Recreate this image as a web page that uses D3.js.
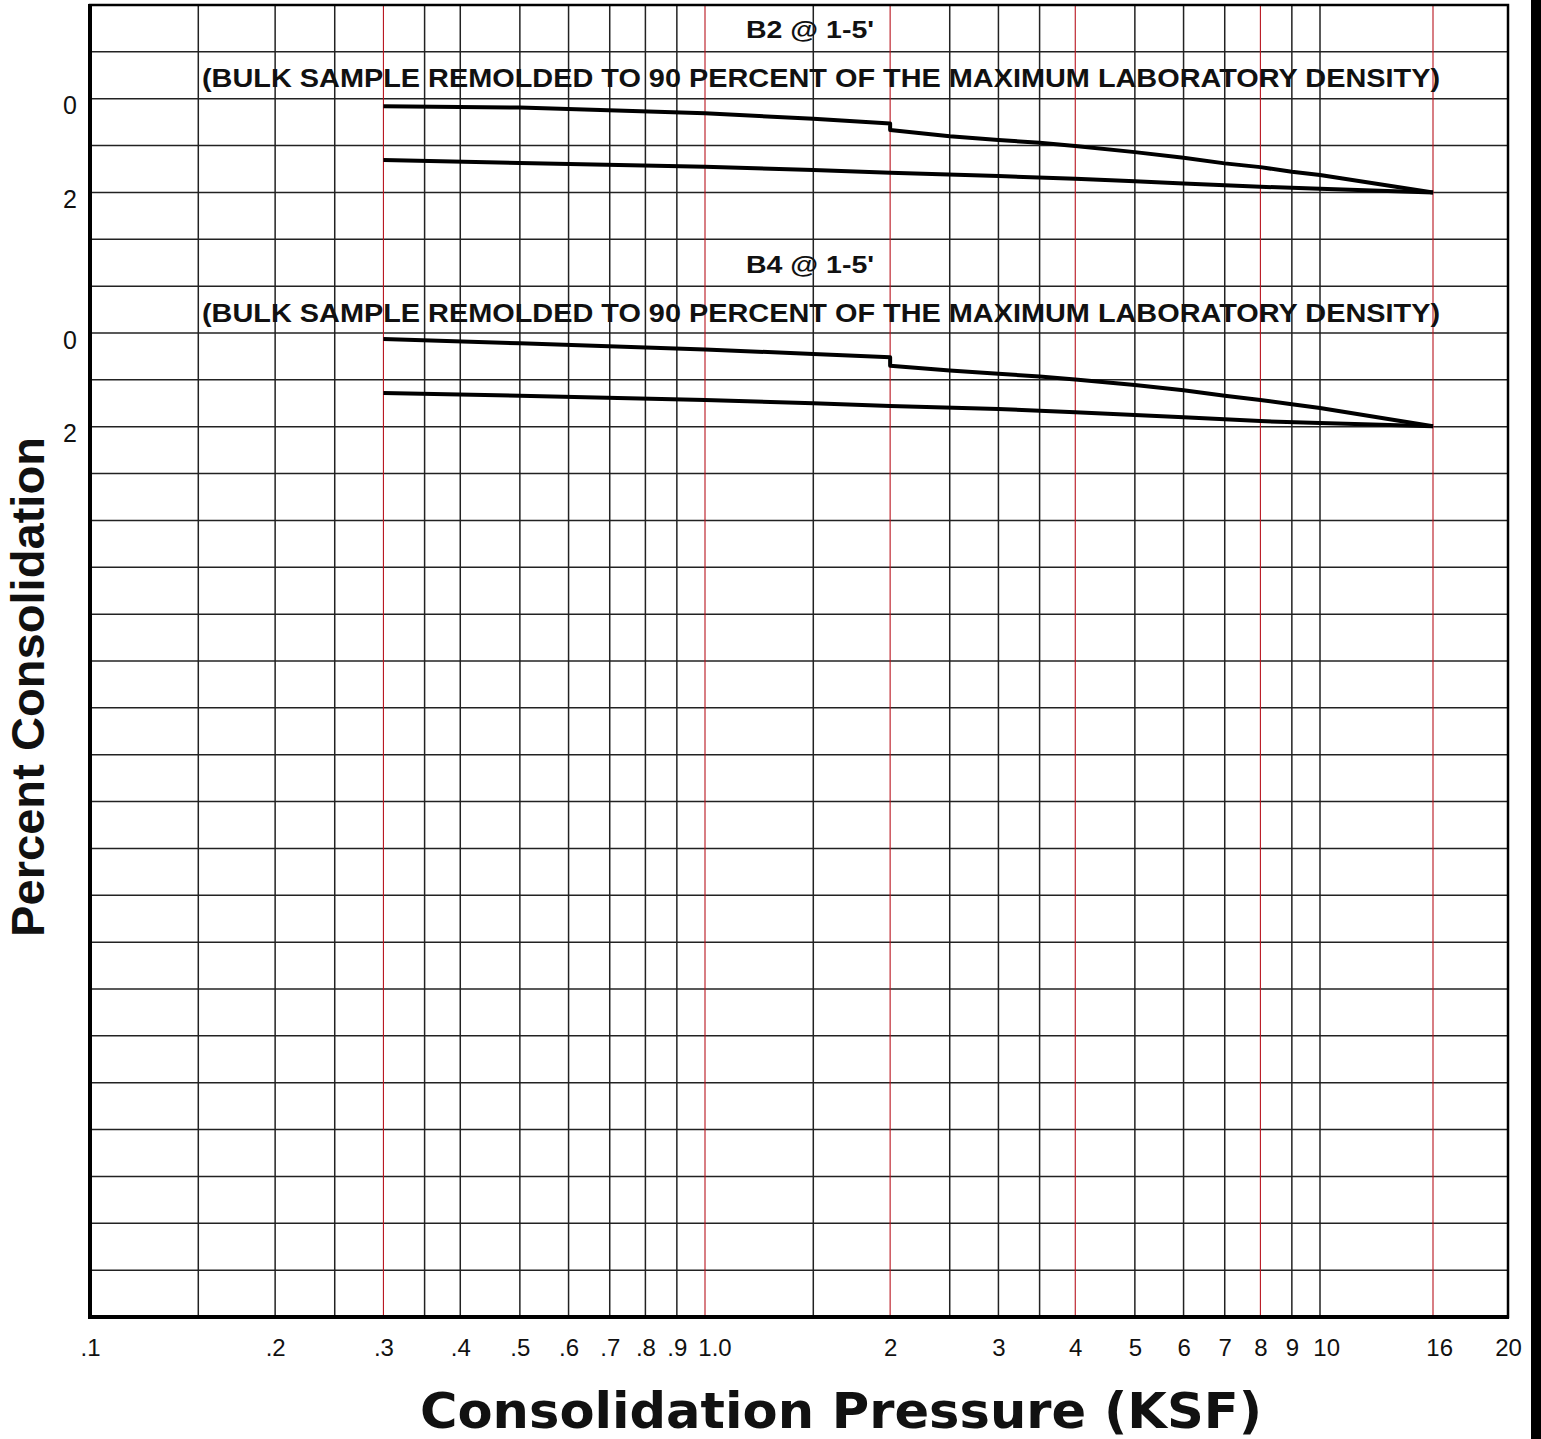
<!DOCTYPE html>
<html>
<head>
<meta charset="utf-8">
<script src="https://cdn.jsdelivr.net/npm/d3@7"></script>
<style>
  html, body { margin: 0; padding: 0; background: #fff; }
  svg { display: block; }
</style>
</head>
<body>
<div id="graph"></div>
<script>
// vertical grid lines (KSF); the red ones mark the load steps
const gridPressures = [0.15, 0.2, 0.25, 0.3, 0.35, 0.4, 0.5, 0.6, 0.7, 0.8, 0.9, 1.0,
                       1.5, 2, 2.5, 3, 3.5, 4, 5, 6, 7, 8, 9, 10, 16];
const redPressures = [0.3, 1.0, 2, 4, 8, 16];

const xTickValues = [0.1, 0.2, 0.3, 0.4, 0.5, 0.6, 0.7, 0.8, 0.9, 1.0, 2, 3, 4, 5, 6, 7, 8, 9, 10, 16, 20];
const xTickLabels = [".1", ".2", ".3", ".4", ".5", ".6", ".7", ".8", ".9", "1.0",
                     "2", "3", "4", "5", "6", "7", "8", "9", "10", "16", "20"];
const yTickValues = [0, 2];

// [pressure KSF, percent consolidation]
const b2Load = [[0.3, 0.16], [0.5, 0.19], [1.0, 0.31], [1.5, 0.43], [2, 0.53], [2, 0.67],
                [2.5, 0.80], [3, 0.88], [3.5, 0.94], [4, 1.01], [5, 1.14], [6, 1.26],
                [7, 1.38], [8, 1.46], [9, 1.56], [10, 1.63], [16, 2.0]];
const b2Unload = [[16, 2.0], [10, 1.92], [8, 1.88], [6, 1.81], [5, 1.76], [4, 1.71],
                  [3, 1.65], [2, 1.58], [1.5, 1.52], [1.0, 1.45], [0.5, 1.37], [0.3, 1.31]];

const b4Load = [[0.3, 0.13], [0.5, 0.22], [1.0, 0.35], [1.5, 0.45], [2, 0.52], [2, 0.70],
                [2.5, 0.80], [3, 0.87], [3.5, 0.93], [4, 0.99], [5, 1.11], [6, 1.22],
                [7, 1.34], [8, 1.43], [9, 1.52], [10, 1.60], [16, 1.99]];
const b4Unload = [[16, 1.99], [10, 1.92], [8, 1.88], [6, 1.80], [5, 1.75], [4, 1.69],
                  [3, 1.62], [2, 1.56], [1.5, 1.50], [1.0, 1.43], [0.5, 1.34], [0.3, 1.28]];

const panelNames = ["B2 @ 1-5'", "B4 @ 1-5'"];
const panelSubtitle = "(BULK SAMPLE REMOLDED TO 90 PERCENT OF THE MAXIMUM LABORATORY DENSITY)";
const panelZeroRows = [2, 7];
const panelCurves = [[b2Load, b2Unload], [b4Load, b4Unload]];

const gridRows = 28;

const width = 1541, height = 1439;
const margin = { left: 90, top: 5, right: 33, bottom: 122 };
const innerW = width - margin.left - margin.right;   // 1418
const innerH = height - margin.top - margin.bottom;  // 1312

const svg = d3.select("#graph").append("svg")
  .attr("width", width)
  .attr("height", height);

// the sheet's edge on the right
svg.append("rect")
  .attr("x", 1531).attr("y", 0)
  .attr("width", 10).attr("height", height)
  .attr("fill", "#000");

const g = svg.append("g")
  .attr("transform", `translate(${margin.left},${margin.top})`);

// log axis, the printed form stretches the 10-16 span a little
const x = d3.scaleLog()
  .domain([0.1, 10, 16, 20])
  .range([0, 1230, 1343, innerW]);

const rowY = d3.scaleLinear().domain([0, gridRows]).range([0, innerH]);

/** horizontal grid */
g.append("g")
  .selectAll("line")
  .data(d3.range(1, gridRows))
  .join("line")
  .attr("x1", 0).attr("x2", innerW)
  .attr("y1", d => rowY(d)).attr("y2", d => rowY(d))
  .attr("stroke", "#222")
  .attr("stroke-width", 1.5);

/** vertical grid */
g.append("g")
  .selectAll("line")
  .data(gridPressures)
  .join("line")
  .attr("x1", d => x(d)).attr("x2", d => x(d))
  .attr("y1", 0).attr("y2", innerH)
  .attr("stroke", d => redPressures.includes(d) ? "#b8141e" : "#222")
  .attr("stroke-width", d => redPressures.includes(d) ? 1.1 : 1.5);

const font = "'Liberation Sans', Arial, sans-serif";

/** the two panels */
panelNames.forEach((name, i) => {
  const zero = panelZeroRows[i];
  const y = d3.scaleLinear().domain([-zero, gridRows - zero]).range([0, innerH]);

  const yAxis = g.append("g")
    .call(d3.axisLeft(y).tickValues(yTickValues).tickSize(0).tickPadding(13));
  yAxis.select(".domain").remove();
  yAxis.selectAll("text")
    .attr("dy", "0.6em")
    .style("font-family", font)
    .style("font-size", "25px")
    .attr("fill", "#111");

  const line = d3.line()
    .x(d => x(d[0]))
    .y(d => y(d[1]));

  g.append("g")
    .selectAll("path")
    .data(panelCurves[i])
    .join("path")
    .attr("d", line)
    .attr("fill", "none")
    .attr("stroke", "#000")
    .attr("stroke-width", 4)
    .attr("stroke-linejoin", "round");

  g.append("text")
    .attr("x", 720)
    .attr("y", y(-1.29))
    .attr("text-anchor", "middle")
    .attr("textLength", 128)
    .attr("lengthAdjust", "spacingAndGlyphs")
    .style("font-family", font)
    .style("font-weight", "bold")
    .style("font-size", "24px")
    .attr("fill", "#111")
    .text(name);

  g.append("text")
    .attr("x", 731)
    .attr("y", y(-0.24))
    .attr("text-anchor", "middle")
    .attr("textLength", 1238)
    .attr("lengthAdjust", "spacingAndGlyphs")
    .style("font-family", font)
    .style("font-weight", "bold")
    .style("font-size", "25px")
    .attr("fill", "#111")
    .text(panelSubtitle);
});

/** x axis labels */
const xAxis = g.append("g")
  .attr("transform", `translate(0,${innerH})`)
  .call(d3.axisBottom(x).tickValues(xTickValues)
    .tickFormat((d, i) => xTickLabels[i]).tickSize(0).tickPadding(22));
xAxis.select(".domain").remove();
xAxis.selectAll("text")
  .style("font-family", font)
  .style("font-size", "24px")
  .attr("fill", "#111");
// the wider labels on the form sit just right of their line
xAxis.selectAll("text")
  .filter(d => d === 1.0 || d === 10 || d === 16)
  .attr("text-anchor", "start")
  .attr("dx", "-0.3em");

/** frame */
g.append("rect")
  .attr("x", 0).attr("y", 0)
  .attr("width", innerW).attr("height", innerH)
  .attr("fill", "none")
  .attr("stroke", "#000")
  .attr("stroke-width", 2.5);
g.append("line")
  .attr("x1", 0).attr("x2", 0).attr("y1", -1).attr("y2", innerH + 2)
  .attr("stroke", "#000").attr("stroke-width", 4);
g.append("line")
  .attr("x1", -2).attr("x2", innerW + 1).attr("y1", innerH).attr("y2", innerH)
  .attr("stroke", "#000").attr("stroke-width", 4);

/** axis titles */
svg.append("text")
  .attr("transform", "translate(44,687) rotate(-90)")
  .attr("text-anchor", "middle")
  .attr("textLength", 500)
  .attr("lengthAdjust", "spacingAndGlyphs")
  .style("font-family", font)
  .style("font-weight", "bold")
  .style("font-size", "46px")
  .attr("fill", "#111")
  .text("Percent Consolidation");

svg.append("text")
  .attr("x", 841)
  .attr("y", 1428)
  .attr("text-anchor", "middle")
  .attr("textLength", 842)
  .attr("lengthAdjust", "spacingAndGlyphs")
  .style("font-family", "'DejaVu Sans', Verdana, sans-serif")
  .style("font-weight", "bold")
  .style("font-size", "49px")
  .attr("fill", "#111")
  .text("Consolidation Pressure (KSF)");
</script>
</body>
</html>
